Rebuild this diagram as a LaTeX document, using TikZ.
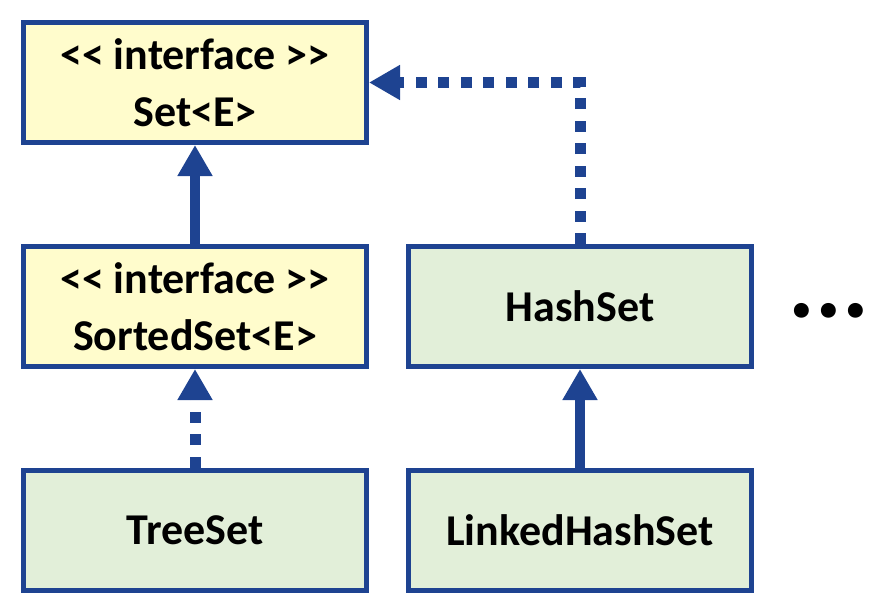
\documentclass[tikz,border=0pt]{standalone}
\usepackage{fontspec}
\setmainfont{Carlito}
\usetikzlibrary{arrows.meta}
\definecolor{bord}{RGB}{30,67,145}
\definecolor{ifill}{RGB}{255,252,204}
\definecolor{cfill}{RGB}{226,239,217}
\tikzset{
  box/.style={draw=bord, line width=5pt, minimum width=343pt, minimum height=120pt, align=center,
    font=\fontsize{44}{57}\selectfont\bfseries, inner sep=0pt},
  ibox/.style={box, fill=ifill},
  cbox/.style={box, fill=cfill},
  solidarr/.style={draw=bord, line width=10pt, -{Triangle[width=33pt,length=31pt]}},
  dotarr/.style={draw=bord, line width=11pt, dash pattern=on 11pt off 11.5pt, -{Triangle[width=33pt,length=31pt]}}
}
\begin{document}
\begin{tikzpicture}[x=1pt,y=-1pt]
\useasboundingbox (0,0) rectangle (888,613);
\node[ibox] (set) at (195,82.5) {<{}< interface >{}>\\Set<E>};
\node[ibox] (sorted) at (195,306.5) {<{}< interface >{}>\\SortedSet<E>};
\node[cbox] (tree) at (195,530) {TreeSet};
\node[cbox] (hash) at (580,306.5) {HashSet};
\node[cbox] (linked) at (580,530) {LinkedHashSet};
\node[font=\fontsize{100}{100}\selectfont\bfseries, inner sep=0pt, anchor=base] (dots) at (829,317) {...};
\draw[solidarr] (sorted.north) -- (set.south);
\draw[dotarr] (tree.north) -- (sorted.south);
\draw[solidarr] (linked.north) -- (hash.south);
\draw[dotarr] (hash.north) |- (set.east);
\end{tikzpicture}
\end{document}
